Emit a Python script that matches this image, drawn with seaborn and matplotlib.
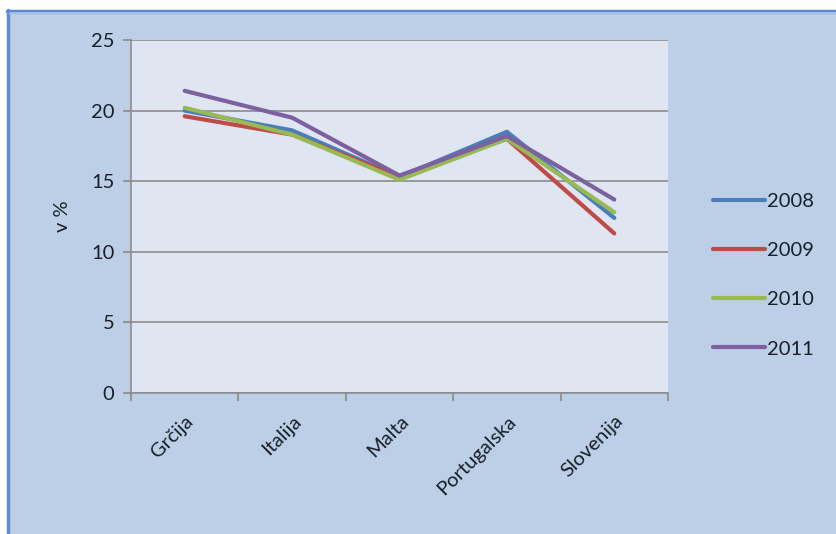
import matplotlib
matplotlib.use("Agg")
import matplotlib.pyplot as plt
from matplotlib.patches import Rectangle
from matplotlib.lines import Line2D
import seaborn as sns
import pandas as pd
import numpy as np

categories = ["Grčija", "Italija", "Malta", "Portugalska", "Slovenija"]
years = ["2008", "2009", "2010", "2011"]
v2008 = [20.0, 18.6, 15.3, 18.5, 12.4]
v2009 = [19.6, 18.3, 15.3, 18.0, 11.3]
v2010 = [20.2, 18.3, 15.1, 18.0, 12.8]
v2011 = [21.4, 19.5, 15.4, 18.2, 13.7]
colors = ["#4a7ebb", "#be4b48", "#98b954", "#7d60a0"]
ylabel = "v %"

rows = []
for yr, vals in zip(years, [v2008, v2009, v2010, v2011]):
    for c, v in zip(categories, vals):
        rows.append({"country": c, "year": yr, "value": v})
df = pd.DataFrame(rows)

sns.set_theme(style="white")
plt.rcParams["font.family"] = ["Lato", "DejaVu Sans"]

W, H = 837, 534
fig = plt.figure(figsize=(W / 100, H / 100), dpi=100, facecolor="white")

# chart area background with blue frame
fig.patches.append(Rectangle((7 / W, 0), 1 - 7 / W, (H - 10) / H, transform=fig.transFigure,
                             facecolor="#bdcfe6", edgecolor="none", zorder=-5))
fig.lines.append(Line2D([8.5 / W, 8.5 / W], [0, (H - 10) / H], transform=fig.transFigure,
                        color="#5b8bd0", lw=2.5, zorder=-4))
fig.lines.append(Line2D([7 / W, 1], [(H - 10.5) / H, (H - 10.5) / H], transform=fig.transFigure,
                        color="#5b8bd0", lw=2.5, zorder=-4))
fig.lines.append(Line2D([10 / W, 1], [(H - 13) / H, (H - 13) / H], transform=fig.transFigure,
                        color="#a9c4ea", lw=2, zorder=-4))

left, right, top, bottom = 131, 668, 40, 393
ax = fig.add_axes([left / W, (H - bottom) / H, (right - left) / W, (bottom - top) / H])
ax.set_facecolor("#dfe6f2")

sns.lineplot(data=df, x="country", y="value", hue="year", palette=colors,
             linewidth=3, ax=ax, sort=False, legend=False)

ax.set_xlim(-0.5, len(categories) - 0.5)
ax.set_ylim(0, 25)
ax.set_yticks([0, 5, 10, 15, 20, 25])
ax.yaxis.grid(True, color="#8c8c8c", linewidth=1.2)
ax.set_axisbelow(True)

txtc = "#17202b"
ax.set_xticks(np.arange(-0.5, len(categories), 1.0))
ax.set_xticklabels([])
ax.set_xticks(np.arange(len(categories)), minor=True)
ax.set_xticklabels(categories, minor=True, rotation=45, ha="right", rotation_mode="anchor",
                   fontsize=14.5, color=txtc)
ax.tick_params(axis="x", which="major", direction="out", length=6, color="#8c8c8c", bottom=True)
ax.tick_params(axis="x", which="minor", length=0, pad=14)
ax.tick_params(axis="y", direction="out", length=6, color="#8c8c8c", left=True,
               labelsize=14.5, labelcolor=txtc, pad=6)

for s in ["top", "right"]:
    ax.spines[s].set_visible(False)
for s in ["left", "bottom"]:
    ax.spines[s].set_color("#8c8c8c")
    ax.spines[s].set_linewidth(1.2)

ax.set_xlabel("")
ax.set_ylabel(ylabel, fontsize=14.5, color=txtc, labelpad=14)

handles = [Line2D([0], [0], color=c, lw=3) for c in colors]
fig.legend(handles, years, loc="center left", bbox_to_anchor=(695 / W, (H - 275) / H),
           frameon=False, fontsize=14.5, handlelength=2.6, handletextpad=0.1,
           labelspacing=1.6, labelcolor=txtc)

fig.savefig("out.png", dpi=100, facecolor="white")
